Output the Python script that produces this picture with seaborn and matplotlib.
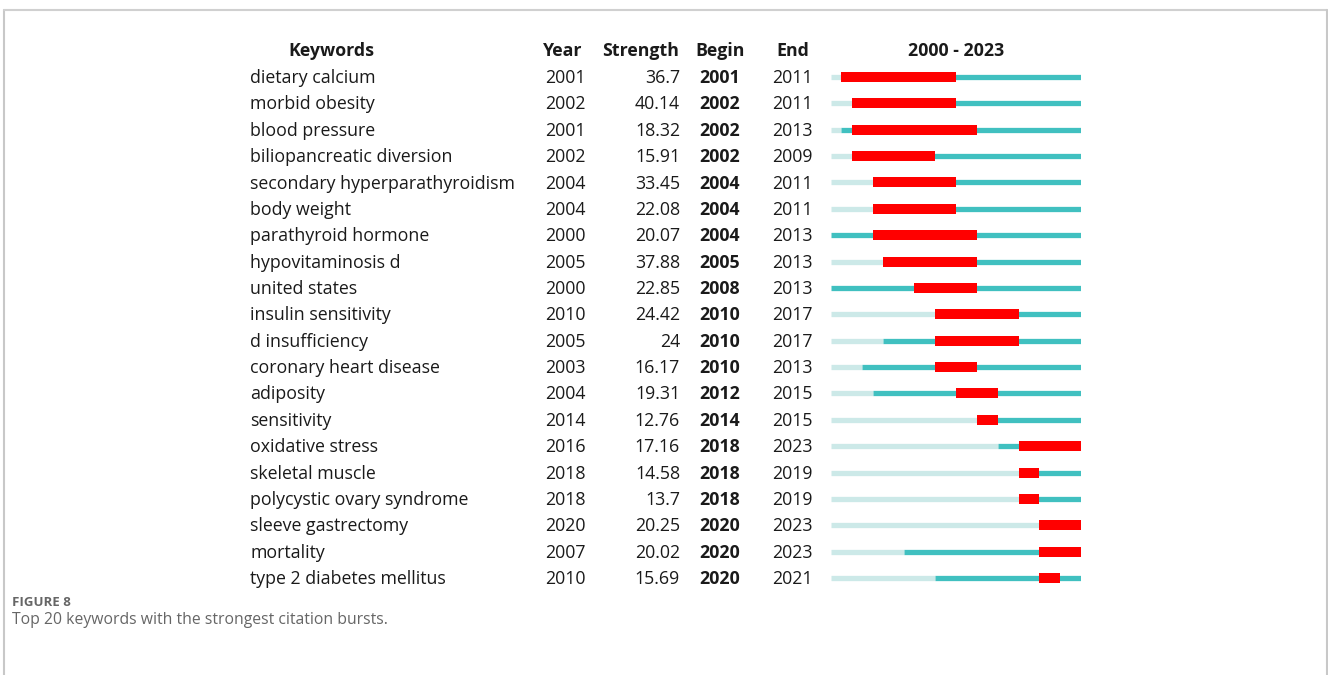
import matplotlib
matplotlib.use('agg')
import matplotlib.pyplot as plt
import matplotlib.transforms as mtransforms
from matplotlib.patches import Rectangle
import seaborn as sns

# keyword burst table
keywords = ['dietary calcium', 'morbid obesity', 'blood pressure', 'biliopancreatic diversion',
            'secondary hyperparathyroidism', 'body weight', 'parathyroid hormone', 'hypovitaminosis d',
            'united states', 'insulin sensitivity', 'd insufficiency', 'coronary heart disease',
            'adiposity', 'sensitivity', 'oxidative stress', 'skeletal muscle',
            'polycystic ovary syndrome', 'sleeve gastrectomy', 'mortality', 'type 2 diabetes mellitus']
year = [2001, 2002, 2001, 2002, 2004, 2004, 2000, 2005, 2000, 2010,
        2005, 2003, 2004, 2014, 2016, 2018, 2018, 2020, 2007, 2010]
strength = ['36.7', '40.14', '18.32', '15.91', '33.45', '22.08', '20.07', '37.88', '22.85', '24.42',
            '24', '16.17', '19.31', '12.76', '17.16', '14.58', '13.7', '20.25', '20.02', '15.69']
begin = [2001, 2002, 2002, 2002, 2004, 2004, 2004, 2005, 2008, 2010,
         2010, 2010, 2012, 2014, 2018, 2018, 2018, 2020, 2020, 2020]
end = [2011, 2011, 2013, 2009, 2011, 2011, 2013, 2013, 2013, 2017,
       2017, 2013, 2015, 2015, 2023, 2019, 2019, 2023, 2023, 2021]
first_year, last_year = 2000, 2023

sns.set_theme(style='white')
plt.rcParams['font.family'] = ['Open Sans', 'DejaVu Sans']

W, H = 1328, 675
fig = plt.figure(figsize=(W / 100, H / 100), dpi=100)

# outer frame
fig.add_artist(plt.Line2D([4 / W, 4 / W], [0, 1 - 10 / H], color='#c8c8c8', lw=1.5))
fig.add_artist(plt.Line2D([4 / W, 1326.5 / W], [1 - 10 / H, 1 - 10 / H], color='#d0d0d0', lw=1.5))
fig.add_artist(plt.Line2D([1326.5 / W, 1326.5 / W], [0, 1 - 10 / H], color='#c8c8c8', lw=1.5))

# burst axes: x in years, y in rows
row_h = 26.37
top_px = 77 - row_h / 2
n = len(keywords)
ax = fig.add_axes([831 / W, 1 - (top_px + n * row_h) / H, 250 / W, n * row_h / H])
ax.set_xlim(first_year, last_year + 1)
ax.set_ylim(n - 0.5, -0.5)
ax.axis('off')

light = '#cce9e8'
teal = '#40c0c0'
red = '#ff0000'
for i in range(n):
    ax.hlines(i, first_year, year[i], color=light, lw=3.8)
    ax.hlines(i, year[i], last_year + 1, color=teal, lw=3.8)
    ax.add_patch(Rectangle((begin[i], i - 0.19), end[i] + 1 - begin[i], 0.38,
                           facecolor=red, edgecolor='none', zorder=3))

trans = mtransforms.blended_transform_factory(fig.transFigure, ax.transData)
fs = 12.8
txt = '#1a1a1a'
ty = 0.04
for i in range(n):
    ax.text(250 / W, i + ty, keywords[i], transform=trans, ha='left', va='center', fontsize=fs, color=txt)
    ax.text(565 / W, i + ty, str(year[i]), transform=trans, ha='center', va='center', fontsize=fs, color=txt)
    ax.text(680 / W, i + ty, strength[i], transform=trans, ha='right', va='center', fontsize=fs, color=txt)
    ax.text(720 / W, i + ty, str(begin[i]), transform=trans, ha='center', va='center', fontsize=fs,
            color=txt, fontweight='bold')
    ax.text(792 / W, i + ty, str(end[i]), transform=trans, ha='center', va='center', fontsize=fs, color=txt)

hy = -0.98
ax.text(331 / W, hy, 'Keywords', transform=trans, ha='center', va='center', fontsize=fs, color=txt, fontweight='bold')
ax.text(563 / W, hy, 'Year', transform=trans, ha='center', va='center', fontsize=fs, color=txt, fontweight='bold')
ax.text(641 / W, hy, 'Strength', transform=trans, ha='center', va='center', fontsize=fs, color=txt, fontweight='bold')
ax.text(720 / W, hy, 'Begin', transform=trans, ha='center', va='center', fontsize=fs, color=txt, fontweight='bold')
ax.text(793 / W, hy, 'End', transform=trans, ha='center', va='center', fontsize=fs, color=txt, fontweight='bold')
ax.text(956 / W, hy, '%d - %d' % (first_year, last_year), transform=trans, ha='center', va='center',
        fontsize=fs, color=txt, fontweight='bold')

# caption
fig.text(12 / W, 1 - 602 / H, 'FIGURE 8', ha='left', va='center', fontsize=9.5, color='#666666', fontweight='bold')
fig.text(12 / W, 1 - 620 / H, 'Top 20 keywords with the strongest citation bursts.', ha='left', va='center',
         fontsize=11.3, color='#666666')

plt.savefig('out.png', dpi=100)
